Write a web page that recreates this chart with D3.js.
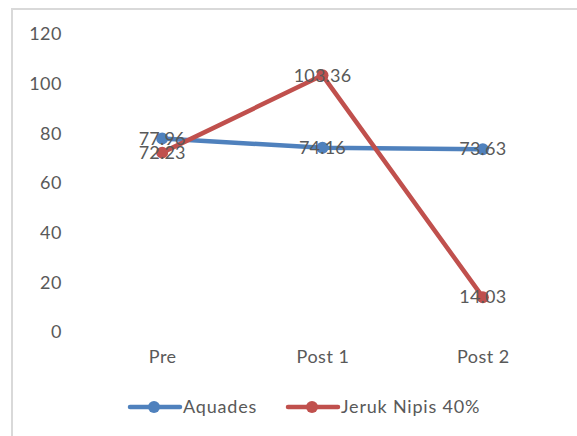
<!DOCTYPE html>
<html>
<head>
<meta charset="utf-8">
<script src="https://cdn.jsdelivr.net/npm/d3@7"></script>
<style>
  html, body { margin: 0; padding: 0; background: #fff; }
  svg { display: block; }
  text { font-family: Lato, "Open Sans", sans-serif; fill: #595959; }
</style>
</head>
<body>
<script>
// Chart data
const categories = ["Pre", "Post 1", "Post 2"];
const aquades = [77.96, 74.16, 73.63];
const jerukNipis = [72.23, 103.36, 14.03];
const yTicks = [0, 20, 40, 60, 80, 100, 120];
const seriesNames = ["Aquades", "Jeruk Nipis 40%"];

const W = 577, H = 436;
const svg = d3.select("body").append("svg").attr("width", W).attr("height", H);

// Chart area frame (runs off the right and bottom edges)
svg.append("rect")
  .attr("x", 12).attr("y", 9)
  .attr("width", W + 20).attr("height", H + 20)
  .attr("fill", "#fff")
  .attr("stroke", "#d9d9d9").attr("stroke-width", 2);

const x = d3.scalePoint().domain(categories).range([82, 563]).padding(0.5);
const y = d3.scaleLinear().domain([0, 120]).range([332, 34]);

// Value axis labels (no line, no ticks)
const yAxis = d3.axisLeft(y).tickValues(yTicks).tickSize(0).tickPadding(0);
const gy = svg.append("g").attr("transform", "translate(62,0)").call(yAxis);
gy.select(".domain").remove();
gy.selectAll("text").attr("font-size", 18).attr("fill", "#595959")
  .attr("letter-spacing", 0.5)
  .style("font-family", "Lato, 'Open Sans', sans-serif");

// Category axis labels
const xAxis = d3.axisBottom(x).tickSize(0).tickPadding(0);
const gx = svg.append("g").attr("transform", "translate(0,350)").call(xAxis);
gx.select(".domain").remove();
gx.selectAll("text").attr("font-size", 18).attr("fill", "#595959")
  .attr("letter-spacing", 0.5)
  .style("font-family", "Lato, 'Open Sans', sans-serif");

const series = [
  { name: seriesNames[0], values: aquades, color: "#4f81bd" },
  { name: seriesNames[1], values: jerukNipis, color: "#c0504d" }
];

const line = d3.line().x((d, i) => x(categories[i])).y(d => y(d));

series.forEach(s => {
  const g = svg.append("g");
  g.append("path").datum(s.values)
    .attr("d", line).attr("fill", "none")
    .attr("stroke", s.color).attr("stroke-width", 4.5)
    .attr("stroke-linejoin", "round").attr("stroke-linecap", "round");
  g.selectAll("circle").data(s.values).join("circle")
    .attr("cx", (d, i) => x(categories[i])).attr("cy", d => y(d))
    .attr("r", 6).attr("fill", s.color);
});

// Data labels centred on each point
series.forEach(s => {
  svg.append("g").selectAll("text").data(s.values).join("text")
    .attr("x", (d, i) => x(categories[i]))
    .attr("y", d => y(d))
    .attr("dy", "0.35em")
    .attr("text-anchor", "middle")
    .attr("font-size", 18).attr("letter-spacing", 0.2).attr("fill", "#404040")
    .text(d => d.toFixed(2));
});

// Legend
const legend = svg.append("g").attr("transform", "translate(0,407)");
const legendItems = [
  { x0: 130, s: series[0] },
  { x0: 288, s: series[1] }
];
legendItems.forEach(it => {
  legend.append("line").attr("x1", it.x0).attr("x2", it.x0 + 50)
    .attr("y1", 0).attr("y2", 0)
    .attr("stroke", it.s.color).attr("stroke-width", 4.5).attr("stroke-linecap", "round");
  legend.append("circle").attr("cx", it.x0 + 24).attr("cy", 0).attr("r", 6).attr("fill", it.s.color);
  legend.append("text").attr("x", it.x0 + 53).attr("y", 0).attr("dy", "0.35em")
    .attr("font-size", 18).attr("letter-spacing", 0.8).text(it.s.name);
});
</script>
</body>
</html>
